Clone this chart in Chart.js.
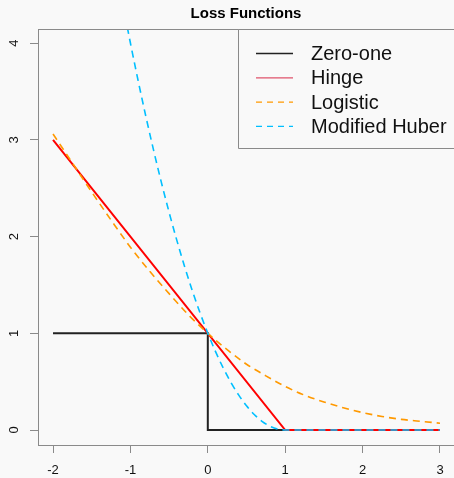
<!DOCTYPE html>
<html>
<head>
<meta charset="utf-8">
<script src="https://cdn.jsdelivr.net/npm/chart.js@4"></script>
<style>
  html, body { margin: 0; padding: 0; background: #f9f9f9; }
  #wrap { width: 454px; height: 478px; }
</style>
</head>
<body>
<div id="wrap"><canvas id="lossChart" width="454" height="478"></canvas></div>
<script>
// values
const seriesNames = ['Zero-one', 'Hinge', 'Logistic', 'Modified Huber'];

const zeroOneX = [-2, 0, 0, 3];
const zeroOneY = [1, 1, 0, 0];

const hingeX = [-2, 1, 3];
const hingeY = [3, 0, 0];

const logisticX = [-2, -1.75, -1.5, -1.25, -1, -0.75, -0.5, -0.25, 0, 0.25, 0.5, 0.75, 1, 1.25, 1.5, 1.75, 2, 2.25, 2.5, 2.75, 3];
const logisticY = [3.06, 2.76, 2.46, 2.17, 1.89, 1.64, 1.41, 1.19, 1.0, 0.83, 0.68, 0.56, 0.45, 0.36, 0.29, 0.23, 0.18, 0.14, 0.11, 0.09, 0.07];

const huberX = [-1.1, -1, -0.9, -0.8, -0.7, -0.6, -0.5, -0.4, -0.3, -0.2, -0.1, 0, 0.1, 0.2, 0.3, 0.4, 0.5, 0.6, 0.7, 0.8, 0.9, 1, 3];
const huberY = [4.41, 4.0, 3.61, 3.24, 2.89, 2.56, 2.25, 1.96, 1.69, 1.44, 1.21, 1.0, 0.81, 0.64, 0.49, 0.36, 0.25, 0.16, 0.09, 0.04, 0.01, 0, 0];

const xTicks = [-2, -1, 0, 1, 2, 3];
const yTicks = [0, 1, 2, 3, 4];

const FONT = "'Liberation Sans', Arial, sans-serif";
const FRAME = '#8a8a8a';

function toPoints(xs, ys) {
    return xs.map((x, i) => ({ x: x, y: ys[i] }));
}

// title, top frame line, rotated y labels and the legend box
const extrasPlugin = {
    id: 'extras',
    afterDraw(chart) {
        const ctx = chart.ctx;
        const area = chart.chartArea;
        const yScale = chart.scales.y;

        ctx.save();
        // top frame line
        ctx.strokeStyle = FRAME;
        ctx.lineWidth = 1;
        ctx.beginPath();
        ctx.moveTo(area.left, area.top + 0.5);
        ctx.lineTo(area.right, area.top + 0.5);
        ctx.stroke();

        // title
        ctx.fillStyle = '#000';
        ctx.font = 'bold 15px ' + FONT;
        ctx.textAlign = 'center';
        ctx.textBaseline = 'middle';
        ctx.fillText('Loss Functions', 246, 14);

        // y tick labels, rotated like base R
        ctx.font = '13px ' + FONT;
        ctx.fillStyle = '#111';
        yTicks.forEach(v => {
            const py = yScale.getPixelForValue(v);
            ctx.save();
            ctx.translate(14, py);
            ctx.rotate(-Math.PI / 2);
            ctx.fillText(String(v), 0, 0);
            ctx.restore();
        });

        // legend
        const boxLeft = 238.5, boxTop = area.top + 0.5, boxBottom = 148.5;
        ctx.fillStyle = '#f9f9f9';
        ctx.fillRect(boxLeft, boxTop, 460 - boxLeft, boxBottom - boxTop);
        ctx.strokeStyle = FRAME;
        ctx.beginPath();
        ctx.moveTo(460, boxTop);
        ctx.lineTo(boxLeft, boxTop);
        ctx.lineTo(boxLeft, boxBottom);
        ctx.lineTo(460, boxBottom);
        ctx.stroke();

        ctx.font = '20px ' + FONT;
        ctx.textAlign = 'left';
        chart.data.datasets.forEach((ds, i) => {
            const rowY = 53.5 + i * 24.3;
            ctx.strokeStyle = ds.legendColor || ds.borderColor;
            ctx.lineWidth = 1.3;
            ctx.setLineDash(ds.borderDash && ds.borderDash.length ? [6, 5] : []);
            ctx.beginPath();
            ctx.moveTo(256, rowY);
            ctx.lineTo(293, rowY);
            ctx.stroke();
            ctx.setLineDash([]);
            ctx.fillStyle = '#111';
            ctx.fillText(ds.label, 311, rowY + 1);
        });
        ctx.restore();
    }
};

const chart = new Chart(document.getElementById('lossChart').getContext('2d'), {
    type: 'line',
    data: {
        datasets: [
            {
                label: seriesNames[0],
                data: toPoints(zeroOneX, zeroOneY),
                borderColor: '#222222',
                borderWidth: 2,
                order: 4
            },
            {
                label: seriesNames[1],
                data: toPoints(hingeX, hingeY),
                borderColor: '#ff0000',
                legendColor: '#df536b',
                borderWidth: 2,
                order: 3
            },
            {
                label: seriesNames[2],
                data: toPoints(logisticX, logisticY),
                borderColor: '#ff9900',
                borderWidth: 1.6,
                borderDash: [7, 5],
                cubicInterpolationMode: 'monotone',
                order: 2
            },
            {
                label: seriesNames[3],
                data: toPoints(huberX, huberY),
                borderColor: '#00bfff',
                borderWidth: 1.6,
                borderDash: [7, 5],
                cubicInterpolationMode: 'monotone',
                order: 1
            }
        ]
    },
    options: {
        responsive: false,
        animation: false,
        elements: { point: { radius: 0 } },
        layout: { padding: { top: 29, right: 0, left: 0, bottom: 0 } },
        plugins: {
            legend: { display: false },
            title: { display: false },
            tooltip: { enabled: false }
        },
        scales: {
            x: {
                type: 'linear',
                min: -2.194,
                max: 3.181,
                afterFit: s => { s.height = 33; },
                afterBuildTicks: s => { s.ticks = xTicks.map(v => ({ value: v })); },
                grid: { drawOnChartArea: false, drawTicks: true, tickLength: 8, tickColor: FRAME },
                border: { display: true, color: FRAME, width: 1 },
                ticks: { color: '#111', font: { family: FONT, size: 13 }, padding: 10, maxRotation: 0 }
            },
            y: {
                type: 'linear',
                min: -0.155,
                max: 4.145,
                afterFit: s => { s.width = 38; },
                afterBuildTicks: s => { s.ticks = yTicks.map(v => ({ value: v })); },
                grid: { drawOnChartArea: false, drawTicks: true, tickLength: 8, tickColor: FRAME },
                border: { display: true, color: FRAME, width: 1 },
                ticks: { display: false }
            }
        }
    },
    plugins: [extrasPlugin]
});
</script>
</body>
</html>
